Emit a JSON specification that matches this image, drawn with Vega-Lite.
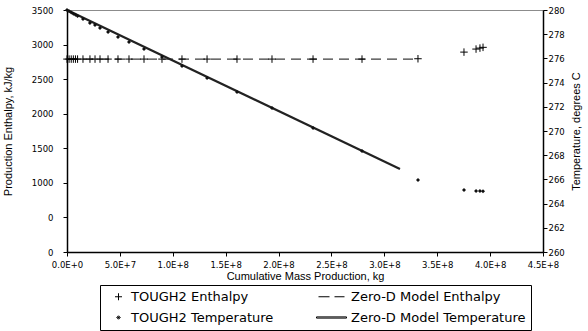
{
  "$schema": "https://vega.github.io/schema/vega-lite/v6.json",
  "width": 476,
  "height": 242,
  "autosize": {"type": "none"},
  "padding": {"left": 67, "top": 10, "right": 45, "bottom": 79},
  "background": "white",
  "config": {
    "font": "Liberation Sans",
    "view": {"stroke": "#8c8c8c", "strokeWidth": 1},
    "axis": {
      "domainColor": "black",
      "domainWidth": 1.5,
      "tickColor": "black",
      "tickWidth": 1,
      "tickSize": 4,
      "grid": false,
      "labelFont": "DejaVu Sans",
      "labelFontSize": 8.5,
      "labelColor": "black",
      "labelFlush": false,
      "labelOverlap": false,
      "titleFont": "Liberation Sans",
      "titleFontSize": 11,
      "titleFontWeight": "normal",
      "titleColor": "black"
    }
  },
  "datasets": {
    "tough2": [
      {"mass": 0, "enthalpy": 2790, "temp": 280.0},
      {"mass": 2000000, "enthalpy": 2790, "temp": 279.9},
      {"mass": 4000000, "enthalpy": 2790, "temp": 279.8},
      {"mass": 6000000, "enthalpy": 2790, "temp": 279.7},
      {"mass": 8000000, "enthalpy": 2790, "temp": 279.6},
      {"mass": 10000000, "enthalpy": 2790, "temp": 279.5},
      {"mass": 15100000, "enthalpy": 2790, "temp": 279.26},
      {"mass": 21700000, "enthalpy": 2790, "temp": 278.93},
      {"mass": 26500000, "enthalpy": 2790, "temp": 278.76},
      {"mass": 31200000, "enthalpy": 2790, "temp": 278.51},
      {"mass": 38800000, "enthalpy": 2790, "temp": 278.18},
      {"mass": 48200000, "enthalpy": 2790, "temp": 277.77},
      {"mass": 58600000, "enthalpy": 2790, "temp": 277.36},
      {"mass": 72800000, "enthalpy": 2790, "temp": 276.78},
      {"mass": 89800000, "enthalpy": 2790, "temp": 276.12},
      {"mass": 108700000, "enthalpy": 2790, "temp": 275.37},
      {"mass": 132400000, "enthalpy": 2790, "temp": 274.38},
      {"mass": 160700000, "enthalpy": 2790, "temp": 273.22},
      {"mass": 193800000, "enthalpy": 2790, "temp": 271.9},
      {"mass": 232600000, "enthalpy": 2790, "temp": 270.25},
      {"mass": 278900000, "enthalpy": 2790, "temp": 268.35},
      {"mass": 331800000, "enthalpy": 2795, "temp": 265.95},
      {"mass": 375300000, "enthalpy": 2891, "temp": 265.12},
      {"mass": 386700000, "enthalpy": 2935, "temp": 265.05},
      {"mass": 390400000, "enthalpy": 2949, "temp": 265.04},
      {"mass": 393300000, "enthalpy": 2960, "temp": 265.02}
    ],
    "zeroEnthalpy": [
      {"mass": 0, "enthalpy": 2790},
      {"mass": 331800000, "enthalpy": 2790}
    ],
    "zeroTemp": [
      {"mass": 0, "temp": 280.0},
      {"mass": 314800000, "temp": 266.86}
    ],
    "series": [
      {"series": "TOUGH2 Enthalpy"},
      {"series": "TOUGH2 Temperature"},
      {"series": "Zero-D Model Enthalpy"},
      {"series": "Zero-D Model Temperature"}
    ]
  },
  "layer": [
    {
      "encoding": {
        "x": {
          "field": "mass",
          "type": "quantitative",
          "title": "Cumulative Mass Production, kg",
          "scale": {"domain": [0, 450000000], "nice": false, "zero": false},
          "axis": {
            "values": [0, 50000000, 100000000, 150000000, 200000000, 250000000, 300000000, 350000000, 400000000, 450000000],
            "labelExpr": "replace(format(datum.value, '.1e'), 'e', 'E')",
            "labelPadding": 4,
            "titlePadding": 2
          }
        },
        "y": {
          "field": "enthalpy",
          "type": "quantitative",
          "title": "Production Enthalpy, kJ/kg",
          "scale": {"domain": [0, 3500], "nice": false, "zero": false},
          "axis": {
            "orient": "left",
            "values": [0, 500, 1000, 1500, 2000, 2500, 3000, 3500],
            "labelExpr": "datum.value == 500 ? '0' : format(datum.value, 'd')",
            "labelPadding": 10,
            "titlePadding": 18
          }
        }
      },
      "layer": [
        {
          "data": {"name": "zeroEnthalpy"},
          "mark": {"type": "line", "color": "#3c3c3c", "strokeWidth": 1.2, "strokeDash": [10, 6]}
        },
        {
          "data": {"name": "tough2"},
          "mark": {"type": "point", "shape": "M-1,0H1M0,-1V1", "size": 56, "filled": false, "color": "black", "strokeWidth": 1, "opacity": 1}
        }
      ]
    },
    {
      "encoding": {
        "x": {"field": "mass", "type": "quantitative"},
        "y": {
          "field": "temp",
          "type": "quantitative",
          "title": "Temperature, degrees C",
          "scale": {"domain": [260, 280], "nice": false, "zero": false},
          "axis": {
            "orient": "right",
            "values": [260, 262, 264, 266, 268, 270, 272, 274, 276, 278, 280],
            "format": "d",
            "labelPadding": 1,
            "titleAngle": -90,
            "titlePadding": 17
          }
        }
      },
      "layer": [
        {
          "data": {"name": "zeroTemp"},
          "mark": {"type": "line", "color": "#222222", "strokeWidth": 2.2}
        },
        {
          "data": {"name": "tough2"},
          "mark": {"type": "point", "shape": "diamond", "size": 16, "filled": true, "color": "#111111", "opacity": 1}
        }
      ]
    },
    {
      "data": {"name": "series"},
      "mark": {"type": "point", "opacity": 0},
      "encoding": {
        "shape": {
          "field": "series",
          "type": "nominal",
          "scale": {
            "domain": ["TOUGH2 Enthalpy", "TOUGH2 Temperature", "Zero-D Model Enthalpy", "Zero-D Model Temperature"],
            "range": [
              "M-0.7,0H0.7M0,-0.7V0.7",
              "M0,-0.35L0.35,0L0,0.35L-0.35,0ZM0,-0.15L0.15,0L0,0.15L-0.15,0ZM-0.1,0H0.1",
              "M-4,0H-1.8M-0.8,0H1.2",
              "M-4.4,-0.12H1.6V0.12H-4.4Z"
            ]
          },
          "legend": {
            "title": null,
            "orient": "none",
            "legendX": 33,
            "legendY": 275,
            "columns": 2,
            "columnPadding": 40,
            "rowPadding": 7,
            "padding": 5,
            "strokeColor": "black",
            "fillColor": "white",
            "symbolSize": 100,
            "symbolOffset": 7,
            "symbolOpacity": 1,
            "symbolFillColor": "black",
            "symbolFillOpacity": 1,
            "symbolStrokeColor": "black",
            "symbolStrokeWidth": 1,
            "labelFont": "DejaVu Sans",
            "labelFontSize": 13,
            "labelColor": "black",
            "labelOffset": 6,
            "labelLimit": 300
          }
        }
      }
    }
  ],
  "resolve": {"scale": {"y": "independent"}}
}
